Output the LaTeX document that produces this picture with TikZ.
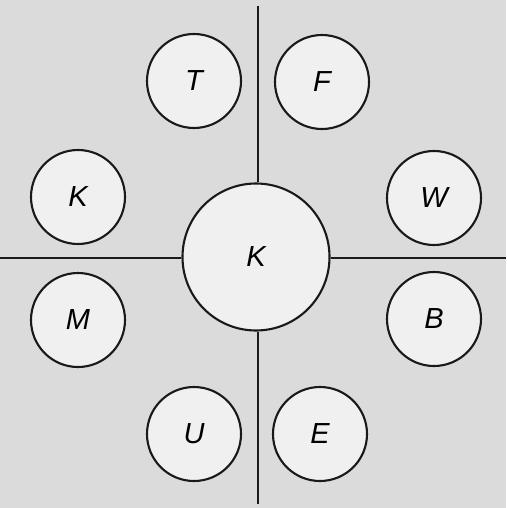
\documentclass[tikz,border=0pt]{standalone}
\usepackage{fontspec}
\setmainfont{Liberation Sans}
\begin{document}
\begin{tikzpicture}[x=1pt,y=-1pt,
  circ/.style={circle,draw=black!90,line width=2.1pt,fill=black!6,inner sep=0pt,
    minimum size=#1,font=\itshape\fontsize{29}{29}\selectfont},
  conn/.style={line width=2.1pt,draw=black!90}]
\fill[black!14] (0,0) rectangle (506,508);
\useasboundingbox (0,0) rectangle (506,508);
\coordinate (top) at (258,6);
\coordinate (bot) at (258,504);
\coordinate (lft) at (0,258);
\coordinate (rgt) at (506,258);
\node[circ=147pt] (K0) at (256,257) {K};
\node[circ=94pt] (T) at (194,81) {T};
\node[circ=94pt] (F) at (322,82) {F};
\node[circ=94pt] (K) at (78,197) {K};
\node[circ=94pt] (W) at (434,198) {W};
\node[circ=94pt] (M) at (78,320) {M};
\node[circ=94pt] (B) at (434,319) {B};
\node[circ=94pt] (U) at (194,434) {U};
\node[circ=94pt] (E) at (320,434) {E};
\draw[conn] (top) -- (top |- K0.north);
\draw[conn] (bot) -- (bot |- K0.south);
\draw[conn] (lft) -- (K0.west |- lft);
\draw[conn] (rgt) -- (K0.east |- rgt);
\end{tikzpicture}
\end{document}
